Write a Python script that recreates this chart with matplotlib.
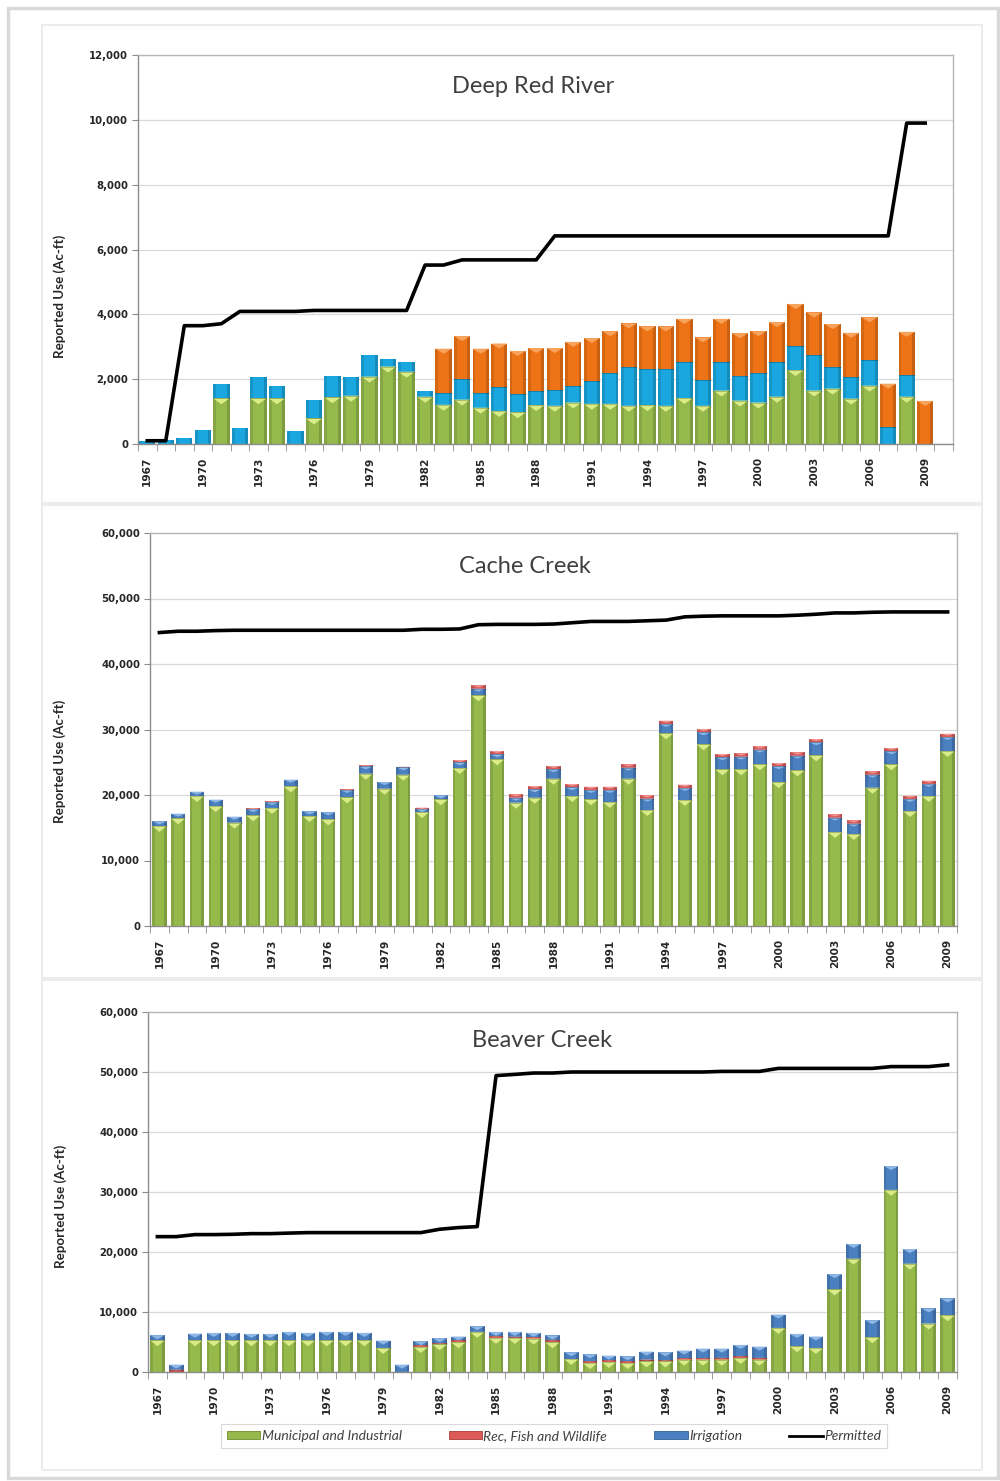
import matplotlib
matplotlib.use("Agg")
import matplotlib.pyplot as plt
import numpy as np
from matplotlib.patches import Rectangle, Patch
from matplotlib.lines import Line2D
from matplotlib.ticker import FuncFormatter, FixedLocator

# ---------------------------------------------------------------- data
years = list(range(1967, 2010))

# Deep Red River (ac-ft)
drr_municipal = [0, 0, 0, 0, 1410, 0, 1410, 1410, 0, 790, 1440, 1490, 2080, 2390, 2230,
                 1460, 1210, 1370, 1120, 1020, 980, 1200, 1180, 1280, 1240, 1240, 1180,
                 1200, 1180, 1420, 1180, 1650, 1340, 1280, 1460, 2280, 1650, 1710, 1400,
                 1800, 0, 1460, 0]
drr_irrigation = [80, 120, 200, 440, 430, 480, 650, 390, 410, 560, 650, 570, 660, 240, 290,
                  190, 370, 640, 460, 730, 570, 450, 490, 520, 690, 940, 1200, 1100, 1120,
                  1100, 780, 870, 750, 900, 1080, 740, 1090, 660, 680, 780, 520, 670, 0]
drr_other = [0, 0, 0, 0, 0, 0, 0, 0, 0, 0, 0, 0, 0, 0, 0, 0,
             1360, 1320, 1360, 1350, 1320, 1310, 1290, 1350, 1340, 1300, 1340, 1330, 1330,
             1340, 1330, 1340, 1330, 1300, 1220, 1300, 1320, 1330, 1350, 1330, 1340, 1330, 1330]
drr_permitted = [100, 100, 3650, 3650, 3710, 4090, 4090, 4090, 4090, 4120, 4120, 4120, 4120,
                 4120, 4120, 5520, 5520, 5680, 5680, 5680, 5680, 5680, 6420, 6420, 6420, 6420,
                 6420, 6420, 6420, 6420, 6420, 6420, 6420, 6420, 6420, 6420, 6420, 6420, 6420,
                 6420, 6420, 9900, 9900]

# Cache Creek (ac-ft)
cc_municipal = [15270, 16440, 19850, 18320, 15780, 16900, 18020, 21320, 16790, 16290, 19640,
                23260, 20970, 23100, 17400, 19340, 24120, 35220, 25450, 18830, 19590, 22490,
                19850, 19340, 18930, 22490, 17710, 29410, 19240, 27740, 23920, 23920, 24680,
                21980, 23770, 26060, 14350, 14050, 21120, 24680, 17560, 19850, 26720]
cc_rec = [0, 0, 0, 0, 0, 150, 150, 0, 0, 0, 100, 150, 0, 100, 200, 0, 350, 500, 500, 500, 500,
          500, 500, 500, 500, 500, 500, 500, 500, 500, 500, 500, 500, 500, 500, 500, 500, 500,
          500, 500, 500, 500, 500]
cc_irrigation = [710, 710, 660, 970, 910, 960, 910, 1020, 720, 1060, 1130, 1120, 1010, 1120,
                 470, 610, 870, 1020, 770, 770, 1280, 1440, 1330, 1430, 1840, 1690, 1740, 1440,
                 1840, 1840, 1840, 1940, 2250, 2410, 2240, 1990, 2200, 1580, 1990, 2000, 1840,
                 1840, 2140]
cc_permitted = [44800, 45000, 45000, 45100, 45150, 45150, 45150, 45150, 45150, 45150, 45150,
                45150, 45150, 45150, 45300, 45300, 45350, 46000, 46050, 46050, 46050, 46100,
                46300, 46500, 46500, 46500, 46600, 46700, 47200, 47300, 47350, 47350, 47350,
                47350, 47450, 47600, 47800, 47800, 47900, 47950, 47950, 47950, 47950]

# Beaver Creek (ac-ft)
bc_municipal = [5290, 0, 5290, 5290, 5290, 5290, 5290, 5290, 5290, 5290, 5290, 5290, 4010, 0,
                4180, 4620, 4960, 6690, 5680, 5680, 5570, 4960, 2170, 1500, 1670, 1500, 1780,
                1780, 2060, 2060, 2060, 2340, 2060, 7350, 4290, 4010, 13760, 18890, 5790, 30360,
                18050, 8080, 9470]
bc_rec = [0, 400, 0, 0, 0, 0, 0, 0, 0, 0, 0, 0, 0, 0, 300, 200, 300, 0, 300, 200, 200, 400, 0,
          300, 300, 300, 300, 200, 200, 200, 300, 300, 300, 0, 0, 0, 0, 0, 0, 0, 0, 0, 0]
bc_irrigation = [840, 830, 1110, 1230, 1230, 1060, 1060, 1400, 1230, 1400, 1400, 1230, 1230,
                 1230, 650, 810, 650, 940, 710, 810, 750, 740, 1120, 1150, 760, 820, 1320, 1310,
                 1310, 1640, 1540, 1870, 1870, 2230, 2060, 1900, 2560, 2450, 2840, 3960, 2450,
                 2510, 2790]
bc_permitted = [22560, 22560, 22900, 22900, 22950, 23060, 23060, 23150, 23230, 23230, 23230,
                23230, 23230, 23230, 23230, 23790, 24070, 24230, 49400, 49600, 49830, 49830,
                50000, 50000, 50000, 50000, 50000, 50000, 50000, 50000, 50100, 50100, 50100,
                50600, 50600, 50600, 50600, 50600, 50600, 50900, 50900, 50900, 51200]

titles = ["Deep Red River", "Cache Creek", "Beaver Creek"]
ylabel = "Reported Use (Ac-ft)"
legend_labels = ["Municipal and Industrial", "Rec, Fish and Wildlife", "Irrigation", "Permitted"]

# ---------------------------------------------------------------- style
GREEN, GREEN_CAP = "#96b94c", "#d9ec88"
CYAN, CYAN_CAP = "#1aa6de", "#6fd0f2"
ORANGE, ORANGE_CAP = "#ee7316", "#f7a35c"
BLUE, BLUE_CAP = "#4a7fc0", "#8fb7e6"
RED, RED_CAP = "#dc5a57", "#f19a97"
GRID = "#d9d9d9"
AXIS = "#8c8c8c"
TEXT = "#262626"

W, H = 1000, 1481
fig = plt.figure(figsize=(W / 100, H / 100), dpi=100)
fig.patch.set_facecolor("white")


def px_rect(left, top, right, bottom):
    return [left / W, 1 - bottom / H, (right - left) / W, (bottom - top) / H]


# outer frame and panel boxes
fig.add_artist(Rectangle((8 / W, 1 - 1478 / H), 990 / W, 1470 / H, transform=fig.transFigure,
                         fill=False, edgecolor="#d9d9d9", linewidth=2.5))
for top, bottom in [(25, 503), (505, 978), (980, 1470)]:
    fig.add_artist(Rectangle((42 / W, 1 - bottom / H), 940 / W, (bottom - top) / H,
                             transform=fig.transFigure, fill=False,
                             edgecolor="#ececec", linewidth=1.5))


def draw_segments(ax, x, bottoms, heights, width, color, cap_color, cap_px):
    x = np.asarray(x, dtype=float)
    bottoms = np.asarray(bottoms, dtype=float)
    heights = np.asarray(heights, dtype=float)
    ax.bar(x, heights, width=width, bottom=bottoms, color=color,
           edgecolor="none", linewidth=0, zorder=2)
    # darker flanks give the rounded look
    ax.bar(x - width * 0.41, heights, width=width * 0.18, bottom=bottoms, color="black",
           alpha=0.10, edgecolor="none", zorder=2.1)
    ax.bar(x + width * 0.41, heights, width=width * 0.18, bottom=bottoms, color="black",
           alpha=0.16, edgecolor="none", zorder=2.1)
    # light bevel at the top of each segment
    ylo, yhi = ax.get_ylim()
    axh = ax.get_position().height * H
    unit = (yhi - ylo) / axh
    for xi, b, h in zip(x, bottoms, heights):
        if h <= 0:
            continue
        ch = min(cap_px * unit, h)
        top = b + h
        ax.fill([xi - width / 2, xi + width / 2, xi], [top, top, top - ch],
                color=cap_color, zorder=2.2, linewidth=0)
        ax.plot([xi - width / 2, xi + width / 2], [b, b], color="black", alpha=0.25,
                linewidth=0.6, zorder=2.3, solid_capstyle="butt")


def setup_axes(rect, ymax, ystep, ncat):
    ax = fig.add_axes(rect)
    ax.set_xlim(-0.5, ncat - 0.5)
    ax.set_ylim(0, ymax)
    ax.set_yticks(np.arange(0, ymax + 1, ystep))
    ax.yaxis.set_major_formatter(FuncFormatter(lambda v, p: f"{int(v):,}"))
    ax.grid(axis="y", color=GRID, linewidth=0.9, zorder=0)
    ax.set_axisbelow(True)
    for s in ax.spines.values():
        s.set_color(AXIS)
        s.set_linewidth(1.0)
    for s in ("top", "right"):
        ax.spines[s].set_color("#b5b5b5")
    ax.tick_params(axis="y", direction="out", length=4, color=AXIS, pad=3,
                   labelsize=7.3, labelcolor=TEXT)
    for lab in ax.get_yticklabels():
        lab.set_fontweight("bold")
    label_idx = list(range(0, len(years), 3))
    ax.set_xticks(label_idx)
    ax.set_xticklabels([str(years[i]) for i in label_idx], rotation=90,
                       fontsize=7.6, color=TEXT, fontweight="bold")
    ax.tick_params(axis="x", which="major", length=0, pad=9)
    ax.xaxis.set_minor_locator(FixedLocator(np.arange(-0.5, ncat, 1.0)))
    ax.tick_params(axis="x", which="minor", direction="out", length=5, color=AXIS)
    ax.set_ylabel(ylabel, fontsize=9.6, family="Lato", fontweight="bold", color=TEXT)
    return ax


x = np.arange(len(years))

# ---------------------------------------------------------------- Deep Red River
ax1 = setup_axes(px_rect(138, 55, 953, 444), 12000, 2000, len(years) + 1)
m = np.array(drr_municipal)
irr = np.array(drr_irrigation)
oth = np.array(drr_other)
draw_segments(ax1, x, np.zeros_like(m), m, 0.88, GREEN, GREEN_CAP, 6)
draw_segments(ax1, x, m, irr, 0.88, CYAN, CYAN_CAP, 0)
draw_segments(ax1, x, m + irr, oth, 0.88, ORANGE, ORANGE_CAP, 5)
ax1.plot(x, drr_permitted, color="black", linewidth=2.6, zorder=4, solid_joinstyle="round")
ax1.yaxis.set_label_coords(-0.088, 0.38)
ax1.text(0.485, 0.918, titles[0], transform=ax1.transAxes, ha="center", va="center",
         fontsize=17, family="Lato", color="#404040")

# ---------------------------------------------------------------- Cache Creek
ax2 = setup_axes(px_rect(150, 533, 957, 926), 60000, 10000, len(years))
m = np.array(cc_municipal)
rec = np.array(cc_rec)
irr = np.array(cc_irrigation)
draw_segments(ax2, x, np.zeros_like(m), m, 0.76, GREEN, GREEN_CAP, 6)
draw_segments(ax2, x, m, irr, 0.76, BLUE, BLUE_CAP, 3)
draw_segments(ax2, x, m + irr, rec, 0.76, RED, RED_CAP, 2)
ax2.plot(x, cc_permitted, color="black", linewidth=2.6, zorder=4, solid_joinstyle="round")
ax2.yaxis.set_label_coords(-0.104, 0.42)
ax2.text(0.465, 0.915, titles[1], transform=ax2.transAxes, ha="center", va="center",
         fontsize=17, family="Lato", color="#404040")

# ---------------------------------------------------------------- Beaver Creek
ax3 = setup_axes(px_rect(148, 1012, 957, 1372), 60000, 10000, len(years))
m = np.array(bc_municipal)
rec = np.array(bc_rec)
irr = np.array(bc_irrigation)
draw_segments(ax3, x, np.zeros_like(m), m, 0.78, GREEN, GREEN_CAP, 6)
draw_segments(ax3, x, m, rec, 0.78, RED, RED_CAP, 1)
draw_segments(ax3, x, m + rec, irr, 0.78, BLUE, BLUE_CAP, 4)
ax3.plot(x, bc_permitted, color="black", linewidth=2.6, zorder=4, solid_joinstyle="round")
ax3.yaxis.set_label_coords(-0.1, 0.46)
ax3.text(0.487, 0.92, titles[2], transform=ax3.transAxes, ha="center", va="center",
         fontsize=17, family="Lato", color="#404040")

# ---------------------------------------------------------------- legend
handles = [Patch(facecolor=GREEN, edgecolor="#6e8b2e", linewidth=0.6),
           Patch(facecolor=RED, edgecolor="#a33c39", linewidth=0.6),
           Patch(facecolor=BLUE, edgecolor="#2f5f99", linewidth=0.6),
           Line2D([0], [0], color="black", linewidth=2)]
leg = fig.legend(handles, legend_labels, loc="center", bbox_to_anchor=(0.554, 1 - 1436 / H),
                 ncol=4, frameon=True, fancybox=False, handlelength=2.4, handleheight=0.5,
                 handletextpad=0.1, columnspacing=3.4, borderpad=0.4,
                 prop={"family": "Lato", "style": "italic", "size": 10})
leg.get_frame().set_edgecolor("#d0d0d0")
leg.get_frame().set_linewidth(0.8)
for t in leg.get_texts():
    t.set_color("#404040")

fig.savefig("out.png", dpi=100, facecolor="white")
